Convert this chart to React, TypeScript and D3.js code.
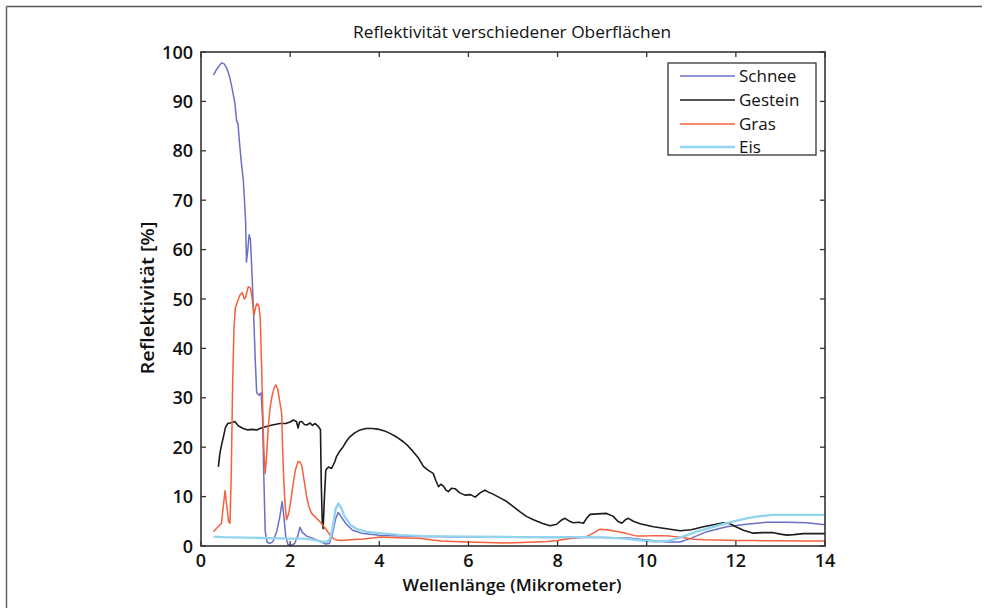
import React from "react";
import * as d3 from "d3";

const title = "Reflektivität verschiedener Oberflächen";
const xLabel = "Wellenlänge (Mikrometer)";
const yLabel = "Reflektivität [%]";
const xTicks = [0, 2, 4, 6, 8, 10, 12, 14];
const yTicks = [0, 10, 20, 30, 40, 50, 60, 70, 80, 90, 100];

const seriesNames = ["Schnee", "Gestein", "Gras", "Eis"];
const seriesColors = ["#6b6fc6", "#1c1c1c", "#f2603c", "#92d3ee"];
const seriesWidths = [1.5, 1.6, 1.5, 2.4];

const schnee: [number, number][] = [[0.28,95.3],[0.35,96.5],[0.46,97.8],[0.52,97.6],[0.58,96.7],[0.64,95],[0.69,93],[0.76,89.7],[0.80,86],[0.83,85.5],[0.86,82],[0.9,78],[0.95,74],[1.0,66],[1.02,57.5],[1.05,60],[1.08,63],[1.11,62],[1.14,56],[1.18,47],[1.22,37],[1.25,31],[1.3,30.5],[1.35,31],[1.38,26],[1.41,14],[1.44,3],[1.48,0.8],[1.55,0.5],[1.62,1],[1.7,3],[1.77,6],[1.82,9],[1.86,6],[1.9,2],[1.95,0.3],[2.02,0.1],[2.1,0.5],[2.17,2],[2.22,3.8],[2.27,2.8],[2.37,2],[2.5,1.6],[2.65,1],[2.8,0.4],[2.88,0.5],[2.95,2.5],[3.02,5.5],[3.08,6.8],[3.14,6],[3.25,4.5],[3.4,3.2],[3.6,2.6],[4.0,2.2],[4.5,2.0],[5,1.9],[6,1.8],[7,1.75],[8,1.7],[9,1.7],[9.6,1.6],[10.0,1.2],[10.45,0.8],[10.75,0.8],[11.0,1.6],[11.35,2.9],[11.79,3.9],[12.24,4.4],[12.69,4.8],[13.14,4.8],[13.59,4.7],[14,4.3]];

const gestein: [number, number][] = [[0.39,16],[0.42,18.5],[0.45,20],[0.5,22],[0.55,24],[0.6,24.8],[0.7,25],[0.76,25.2],[0.84,24.3],[0.95,23.8],[1.05,23.5],[1.15,23.6],[1.25,23.5],[1.35,23.9],[1.47,24.2],[1.6,24.5],[1.77,24.8],[1.9,24.8],[2.0,25.1],[2.07,25.5],[2.14,25.2],[2.18,23.9],[2.21,25.1],[2.26,25.2],[2.32,24.6],[2.37,24.5],[2.45,24.9],[2.5,24.4],[2.56,24.8],[2.63,24.2],[2.68,23.6],[2.7,12],[2.72,5],[2.74,3.5],[2.77,10],[2.80,15.4],[2.86,16],[2.93,15.7],[3.0,17],[3.04,18.1],[3.12,19.3],[3.19,20.1],[3.27,21.3],[3.34,22.1],[3.45,22.9],[3.57,23.5],[3.7,23.8],[3.85,23.8],[4.0,23.6],[4.12,23.3],[4.24,22.8],[4.4,22],[4.54,21.1],[4.65,20.2],[4.76,19.1],[4.88,17.8],[4.99,16.1],[5.1,15.3],[5.21,14.7],[5.27,13.2],[5.33,12.0],[5.38,12.5],[5.44,12.1],[5.5,11.3],[5.55,11.0],[5.62,11.7],[5.7,11.6],[5.8,10.8],[5.92,10.3],[6.05,10.4],[6.15,9.9],[6.27,10.8],[6.37,11.3],[6.45,10.9],[6.53,10.6],[6.7,9.8],[6.86,9.0],[7.0,8.0],[7.16,6.9],[7.3,6.0],[7.46,5.3],[7.65,4.6],[7.83,4.1],[7.98,4.4],[8.08,5.2],[8.17,5.6],[8.27,5.0],[8.35,4.7],[8.48,4.8],[8.58,4.6],[8.65,5.6],[8.73,6.4],[8.9,6.5],[9.1,6.6],[9.25,6.0],[9.35,5.0],[9.44,4.6],[9.52,5.3],[9.59,5.6],[9.7,5.0],[9.85,4.5],[10.0,4.2],[10.15,3.9],[10.45,3.5],[10.75,3.1],[11.0,3.3],[11.27,3.9],[11.5,4.3],[11.72,4.7],[11.87,4.5],[12.0,3.9],[12.17,3.2],[12.39,2.6],[12.6,2.7],[12.84,2.7],[13.0,2.4],[13.14,2.2],[13.3,2.3],[13.51,2.5],[13.75,2.5],[14,2.5]];

const gras: [number, number][] = [[0.28,2.9],[0.35,3.6],[0.46,4.6],[0.5,8],[0.54,11.2],[0.58,8],[0.62,5],[0.65,4.6],[0.68,15],[0.71,33],[0.74,44],[0.77,48.2],[0.82,49.5],[0.875,50.8],[0.93,51.3],[0.97,50],[1.0,50.3],[1.06,52.5],[1.11,52.2],[1.15,50],[1.19,46.8],[1.23,48.5],[1.26,49.1],[1.3,48.5],[1.33,46],[1.36,36.3],[1.39,26],[1.41,19.4],[1.44,14.7],[1.47,18],[1.51,24.2],[1.55,28],[1.59,30.2],[1.64,32],[1.68,32.6],[1.72,31.8],[1.75,30.2],[1.78,28.5],[1.81,26.9],[1.83,20],[1.86,12.7],[1.89,8],[1.92,5.3],[1.97,6.7],[2.02,9.5],[2.07,12.7],[2.12,15.5],[2.18,17.1],[2.22,17],[2.26,16.3],[2.31,13.5],[2.37,10],[2.42,8],[2.48,6.6],[2.57,5.8],[2.67,4.9],[2.75,4],[2.82,3.2],[2.9,2.2],[2.97,1.5],[3.04,1.2],[3.15,1.1],[3.27,1.2],[3.45,1.3],[3.64,1.4],[3.85,1.6],[4.02,1.8],[4.3,1.7],[4.6,1.6],[4.91,1.55],[5.2,1.2],[5.4,1.0],[5.66,0.9],[6.0,0.8],[6.4,0.7],[6.78,0.6],[7.2,0.7],[7.5,0.8],[7.76,0.9],[8.0,1.1],[8.28,1.5],[8.5,1.7],[8.65,1.9],[8.8,2.6],[8.95,3.4],[9.1,3.3],[9.3,3.0],[9.48,2.7],[9.65,2.3],[9.78,2.0],[9.95,2.0],[10.15,2.1],[10.35,2.1],[10.52,2.0],[10.8,1.7],[11.05,1.35],[11.3,1.25],[11.64,1.2],[12.0,1.1],[12.39,1.1],[13.0,1.05],[13.5,1.0],[14,1.0]];

const eis: [number, number][] = [[0.28,1.9],[0.5,1.8],[1.0,1.7],[1.5,1.6],[2.0,1.5],[2.3,1.5],[2.5,1.3],[2.7,0.9],[2.82,0.8],[2.9,1.5],[2.96,4],[3.02,7.5],[3.08,8.6],[3.14,7.8],[3.22,6],[3.35,4.3],[3.5,3.4],[3.7,2.9],[4.0,2.6],[4.5,2.2],[5.0,2.0],[6.0,1.9],[7.0,1.8],[8.0,1.8],[8.65,1.8],[9.0,1.75],[9.5,1.5],[9.9,1.1],[10.2,0.9],[10.45,1.0],[10.75,1.7],[11.12,2.9],[11.4,3.6],[11.64,4.25],[11.95,5.0],[12.24,5.6],[12.5,6.0],[12.84,6.3],[13.3,6.3],[14,6.3]];

const seriesData = [schnee, gestein, gras, eis];

const W = 988, H = 608;
const plot = { left: 201, right: 825, top: 52, bottom: 546 };
const FONT = "'Open Sans', 'Noto Sans', sans-serif";

export default function App() {
  const x = d3.scaleLinear().domain([0, 14]).range([plot.left, plot.right]);
  const y = d3.scaleLinear().domain([0, 100]).range([plot.bottom, plot.top]);
  const line = d3.line<[number, number]>().x(d => x(d[0])).y(d => y(d[1]));
  const axisColor = "#333";
  const tl = 5;
  const legend = { x: 668, y: 63, w: 148, h: 92 };
  const legendRows = [76, 100, 124, 147];

  return (
    <svg width={W} height={H} style={{ position: "absolute", left: 0, top: 0, background: "#fff" }} fontFamily={FONT}>
      <line x1={6.5} y1={6.5} x2={982} y2={6.5} stroke="#555" strokeWidth={1.5} />
      <line x1={6.5} y1={6.5} x2={6.5} y2={608} stroke="#666" strokeWidth={1.5} />
      <text x={512} y={38} textAnchor="middle" fontSize={17} fontWeight={500} fill="#111" textLength={318} lengthAdjust="spacingAndGlyphs">{title}</text>
      {seriesData.map((d, i) => (
        <path key={seriesNames[i]} d={line(d) || ""} fill="none" stroke={seriesColors[i]} strokeWidth={seriesWidths[i]} strokeLinejoin="round" />
      ))}
      <rect x={plot.left} y={plot.top} width={plot.right - plot.left} height={plot.bottom - plot.top} fill="none" stroke={axisColor} strokeWidth={1.6} />
      {xTicks.map(t => (
        <g key={"x" + t}>
          <line x1={x(t)} x2={x(t)} y1={plot.bottom} y2={plot.bottom - tl} stroke={axisColor} strokeWidth={1.3} />
          <line x1={x(t)} x2={x(t)} y1={plot.top} y2={plot.top + tl} stroke={axisColor} strokeWidth={1.3} />
          <text x={x(t)} y={plot.bottom + 21} textAnchor="middle" fontSize={18} fontWeight={600} fill="#111">{t}</text>
        </g>
      ))}
      {yTicks.map(t => (
        <g key={"y" + t}>
          <line x1={plot.left} x2={plot.left + tl} y1={y(t)} y2={y(t)} stroke={axisColor} strokeWidth={1.3} />
          <line x1={plot.right} x2={plot.right - tl} y1={y(t)} y2={y(t)} stroke={axisColor} strokeWidth={1.3} />
          <text x={plot.left - 8} y={y(t) + 6.5} textAnchor="end" fontSize={18} fontWeight={600} fill="#111">{t}</text>
        </g>
      ))}
      <text x={512} y={591} textAnchor="middle" fontSize={17} fontWeight={600} fill="#111" textLength={219} lengthAdjust="spacingAndGlyphs">{xLabel}</text>
      <text transform={`translate(154, 298) rotate(-90)`} textAnchor="middle" fontSize={17.5} fontWeight={600} fill="#111" textLength={153} lengthAdjust="spacingAndGlyphs">{yLabel}</text>
      <rect x={legend.x} y={legend.y} width={legend.w} height={legend.h} fill="#fff" stroke={axisColor} strokeWidth={1.3} />
      {seriesNames.map((n, i) => (
        <g key={"l" + n}>
          <line x1={680} x2={735} y1={legendRows[i]} y2={legendRows[i]} stroke={seriesColors[i]} strokeWidth={seriesWidths[i]} />
          <text x={739} y={legendRows[i] + 6} fontSize={17} fontWeight={500} fill="#111">{n}</text>
        </g>
      ))}
    </svg>
  );
}
